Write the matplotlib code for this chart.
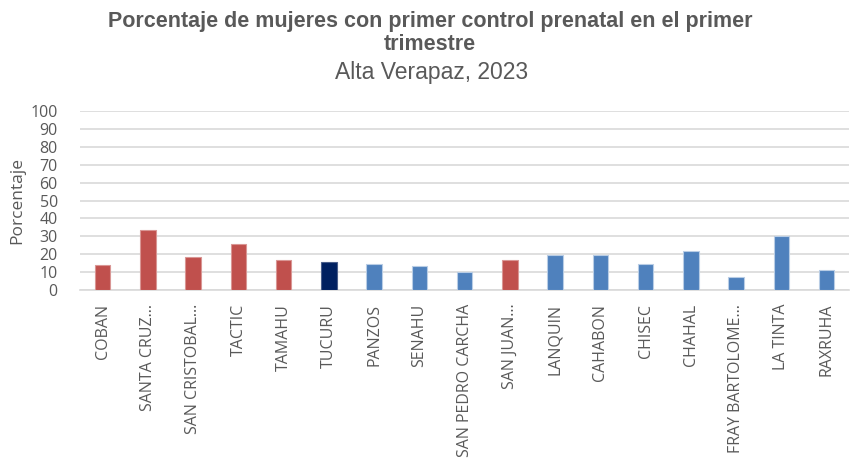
import matplotlib.pyplot as plt

# municipios de Alta Verapaz (etiquetas tal como salen recortadas en el original)
municipios = ['COBAN', 'SANTA CRUZ...', 'SAN CRISTOBAL...', 'TACTIC', 'TAMAHU',
              'TUCURU', 'PANZOS', 'SENAHU', 'SAN PEDRO CARCHA', 'SAN JUAN...',
              'LANQUIN', 'CAHABON', 'CHISEC', 'CHAHAL', 'FRAY BARTOLOME...',
              'LA TINTA', 'RAXRUHA']
porcentaje = [13.8, 33.8, 18.2, 25.5, 16.9, 15.8, 14.7, 13.6, 10.0, 16.9,
              19.3, 19.3, 14.7, 21.6, 7.4, 29.9, 11.2]
# grupo de color de cada barra: r = rojo, n = azul oscuro, b = azul
grupo = ['r', 'r', 'r', 'r', 'r', 'n', 'b', 'b', 'b', 'r',
         'b', 'b', 'b', 'b', 'b', 'b', 'b']

relleno = {'r': '#C0504D', 'n': '#002060', 'b': '#4F81BD'}
borde = {'r': '#D99694', 'n': '#4A5E8A', 'b': '#B9CDE5'}

gris = '#595959'
fuente = ['Open Sans', 'DejaVu Sans']

fig = plt.figure(figsize=(8.51, 4.61), dpi=100)
ax = fig.add_axes([0.094, 0.371, 0.904, 0.388])

x = range(len(municipios))
ax.bar(x, porcentaje, width=0.34,
       color=[relleno[g] for g in grupo],
       edgecolor=[borde[g] for g in grupo], linewidth=0.8, zorder=3)

ax.set_xlim(-0.5, len(municipios) - 0.5)
ax.set_ylim(0, 100)
ax.set_yticks(range(0, 101, 10))
ax.grid(axis='y', color='#D9D9D9', linewidth=1.2, zorder=0)
for s in ['top', 'right', 'left']:
    ax.spines[s].set_visible(False)
ax.spines['bottom'].set_color('#D9D9D9')
ax.spines['bottom'].set_linewidth(1.2)

ax.set_xticks(list(x))
ax.set_xticklabels(municipios, rotation=90, va='top', ha='center',
                   fontsize=11.5, color=gris, family=fuente)
ax.tick_params(axis='x', length=0, pad=10)
ax.tick_params(axis='y', length=0, pad=16, labelsize=11.5, labelcolor=gris)
for t in ax.get_yticklabels():
    t.set_family(fuente)

ax.set_ylabel('Porcentaje', fontsize=12.5, color=gris, family=fuente, labelpad=4)

fig.text(0.505, 0.953, 'Porcentaje de mujeres con primer control prenatal en el primer',
         ha='center', va='center', fontsize=15.5, fontweight='bold',
         color=gris, family='Liberation Sans')
fig.text(0.505, 0.903, 'trimestre', ha='center', va='center', fontsize=15.5,
         fontweight='bold', color=gris, family='Liberation Sans')
fig.text(0.507, 0.843, 'Alta Verapaz, 2023', ha='center', va='center',
         fontsize=16.5, color=gris, family='Liberation Sans')

fig.savefig('out.png', dpi=100)
